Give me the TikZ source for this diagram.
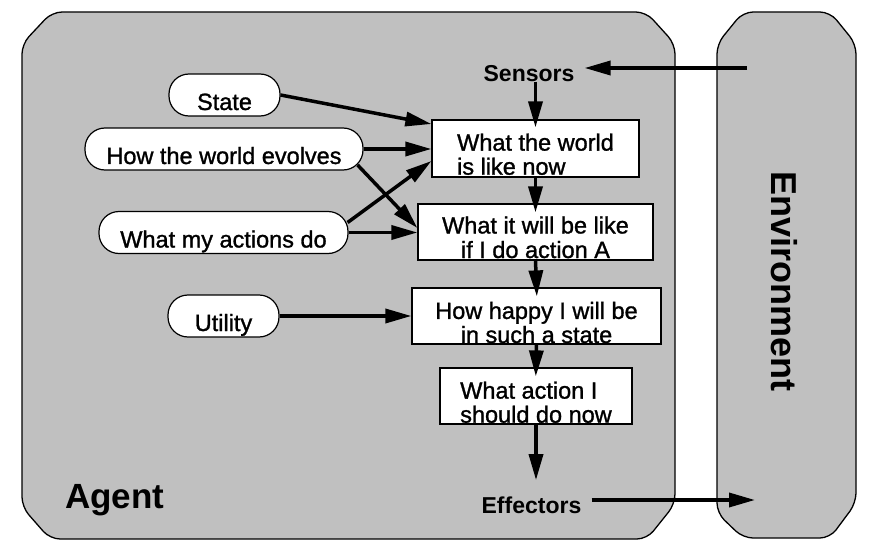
\documentclass[tikz,border=0pt]{standalone}
\usepackage{fontspec}
\setmainfont{Liberation Sans}
\newfontfamily\heavyfont[FakeBold=1.2]{Liberation Sans}
\usetikzlibrary{arrows.meta,calc}
\definecolor{panel}{RGB}{192,192,192}
\begin{document}
\begin{tikzpicture}[x=1pt,y=-1pt,
  arr/.style={line width=3.5pt,-{Triangle[length=26pt,width=14pt]}},
  panelline/.style={draw=black,line width=1.3pt,fill=panel,rounded corners=10pt},
  oval/.style={draw=black,line width=1.2pt,fill=white,rounded corners=20pt,minimum height=42pt,inner sep=0pt,text height=30pt,text depth=0pt,font=\heavyfont\fontsize{23.5}{23.5}\selectfont},
  stepbox/.style={draw=black,line width=1.2pt,fill=white,inner sep=0pt,text depth=0pt,font=\heavyfont\fontsize{23.5}{23.5}\selectfont},
  big/.style={font=\bfseries\fontsize{35}{35}\selectfont,inner sep=0pt},
  port/.style={font=\bfseries\fontsize{23}{23}\selectfont,inner sep=0pt}]
\useasboundingbox (0,0) rectangle (871,551);

% panels
\draw[panelline] (22,44) -- (52,12) -- (646,12) -- (675,44) -- (675,504) -- (647,539) -- (50,539) -- (22,507) -- cycle;
\draw[panelline] (717,44) -- (743,12) -- (830,12) -- (856,44) -- (856,503) -- (830,538) -- (743,538) -- (717,513) -- cycle;

\node[big,anchor=base west] (agent) at (65,508) {Agent};
\node[big,anchor=base,rotate=-90,font=\bfseries\fontsize{36}{36}\selectfont] (env) at (771.7,281.5) {Environment};

\coordinate (envin) at (747,68);
\coordinate (envout) at (755,500);

\node[port,anchor=base] (sensors) at (529,81.7) {Sensors};
\node[port,anchor=base] (effectors) at (531.5,513) {Effectors};

% ovals
\node[oval,minimum width=111pt] (state) at (224.5,95) {State};
\node[oval,minimum width=278pt] (evolves) at (224,149) {How the world evolves};
\node[oval,minimum width=249pt] (actions) at (223.5,232.5) {What my actions do};
\node[oval,minimum width=111pt] (utility) at (223.5,316) {Utility};

% boxes
\node[stepbox,minimum width=207pt,minimum height=57pt,text height=52.4pt] (box1) at (535.5,148.5)
  {\begin{tabular}[b]{@{}l@{}}What the world\\is like now\end{tabular}};
\node[stepbox,minimum width=235pt,minimum height=56pt,text height=52pt,font=\heavyfont\fontsize{23.5}{24.5}\selectfont] (box2) at (535.5,232)
  {\begin{tabular}[b]{@{}c@{}}What it will be like\\if I do action A\end{tabular}};
\node[stepbox,minimum width=249pt,minimum height=56pt,text height=54pt] (box3) at (536.5,316)
  {\begin{tabular}[b]{@{}c@{}}How happy I will be\\in such a state\end{tabular}};
\node[stepbox,minimum width=192pt,minimum height=56pt,text height=53.4pt] (box4) at (536,396)
  {\begin{tabular}[b]{@{}l@{}}What action I\\should do now\end{tabular}};

% connectors
\draw[arr,shorten >=10pt] (envin) -- (envin -| sensors.east);
\draw[arr,shorten >=-8pt] (sensors.base -| box1.north) -- (box1.north);
\draw[arr,shorten >=-9pt] (box1.south) -- (box2.north);
\draw[arr,shorten >=-9pt] (box2.south) -- (box3.north);
\draw[arr,shorten >=-9pt] (box3.south) -- (box4.north);
\draw[arr,shorten >=16pt] (box4.south) -- (box4.south |- effectors.north);
\draw[arr,shorten <=10pt] (envout -| effectors.east) -- (envout);

\draw[arr] (state.east) -- ($(box1.west)+(0,-24.5)$);
\draw[arr] (evolves.east) -- (evolves.east -| box1.west);
\draw[arr] ($(evolves.east)+(-6,16)$) -- ($(box2.west)+(0,-4)$);
\draw[arr] ($(actions.east)+(-1,-10)$) -- ($(box1.west)+(0,12.5)$);
\draw[arr] (actions.east) -- (actions.east -| box2.west);
\draw[arr] (utility.east) -- (utility.east -| box3.west);
\end{tikzpicture}
\end{document}
